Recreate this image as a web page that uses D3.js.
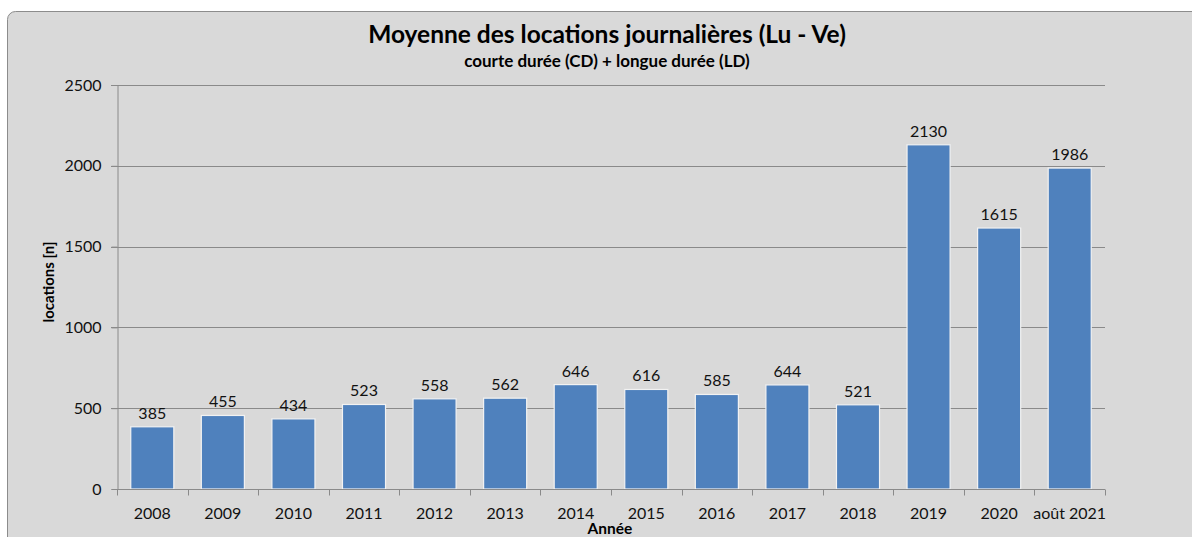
<!DOCTYPE html>
<html>
<head>
<meta charset="utf-8">
<title>Moyenne des locations journalières</title>
<script src="https://cdn.jsdelivr.net/npm/d3@7"></script>
<style>
  body { margin: 0; background: #fff; }
  svg { display: block; font-family: Lato, "Open Sans", sans-serif; }
</style>
</head>
<body>
<svg width="1192" height="537"></svg>
<script>
// data
var years = ['2008', '2009', '2010', '2011', '2012', '2013', '2014', '2015', '2016', '2017', '2018', '2019', '2020', 'août 2021'];
var locations = [385, 455, 434, 523, 558, 562, 646, 616, 585, 644, 521, 2130, 1615, 1986];
var yTicks = [0, 500, 1000, 1500, 2000, 2500];

var svg = d3.select('svg');

// chart frame
svg.append('rect')
  .attr('x', 7.5).attr('y', 11.5)
  .attr('width', 1200).attr('height', 560)
  .attr('rx', 8)
  .style('fill', '#d9d9d9')
  .style('stroke', '#8c8c8c')
  .style('stroke-width', 1);

var plotLeft = 117, plotRight = 1105, plotTop = 85, plotBottom = 489;

var x = d3.scaleBand().domain(years).range([plotLeft, plotRight]).paddingInner(0.39).paddingOuter(0.195);
var y = d3.scaleLinear().domain([0, 2500]).range([plotBottom, plotTop]);

// gridlines
svg.append('g')
  .selectAll('line')
  .data(yTicks.filter(function(d) { return d > 0; }))
  .enter().append('line')
  .attr('x1', plotLeft - 6).attr('x2', plotRight)
  .attr('y1', function(d) { return Math.round(y(d)) + 0.5; })
  .attr('y2', function(d) { return Math.round(y(d)) + 0.5; })
  .style('stroke', '#8a8a8a');

// y axis
var yAxis = svg.append('g')
  .attr('transform', 'translate(' + (plotLeft + 0.5) + ',0)')
  .call(d3.axisLeft(y).tickValues(yTicks).tickFormat(d3.format('d')).tickSize(6).tickPadding(10));
yAxis.select('.domain').style('stroke', '#8a8a8a');
yAxis.selectAll('.tick line').style('stroke', '#8a8a8a');
yAxis.selectAll('text').style('font-size', '16px').style('fill', '#111').style('font-family', 'Lato, sans-serif');

// bars
svg.append('g')
  .selectAll('rect')
  .data(locations)
  .enter().append('rect')
  .attr('x', function(d, i) { return x(years[i]); })
  .attr('y', function(d) { return y(d); })
  .attr('width', x.bandwidth())
  .attr('height', function(d) { return plotBottom - y(d); })
  .style('fill', '#4f81bd')
  .style('stroke', '#f2f2f2')
  .style('stroke-width', 1.2);

// value labels
svg.append('g')
  .selectAll('text')
  .data(locations)
  .enter().append('text')
  .attr('x', function(d, i) { return x(years[i]) + x.bandwidth() / 2; })
  .attr('y', function(d) { return y(d) - 8; })
  .attr('text-anchor', 'middle')
  .style('font-size', '16px')
  .style('fill', '#111')
  .text(function(d) { return d; });

// x axis with ticks between categories
var step = x.step();
var xAxis = svg.append('g')
  .attr('transform', 'translate(0,' + (plotBottom + 0.5) + ')');
xAxis.append('line')
  .attr('x1', plotLeft).attr('x2', plotRight)
  .style('stroke', '#8a8a8a');
xAxis.selectAll('line.tk')
  .data(d3.range(years.length + 1))
  .enter().append('line')
  .attr('class', 'tk')
  .attr('x1', function(i) { return Math.round(plotLeft + i * step) + 0.5; })
  .attr('x2', function(i) { return Math.round(plotLeft + i * step) + 0.5; })
  .attr('y1', 0).attr('y2', 6)
  .style('stroke', '#8a8a8a');
xAxis.selectAll('text')
  .data(years)
  .enter().append('text')
  .attr('x', function(d) { return x(d) + x.bandwidth() / 2; })
  .attr('y', 29)
  .attr('text-anchor', 'middle')
  .style('font-size', '16px')
  .style('fill', '#111')
  .text(function(d) { return d; });

// titles
svg.append('text')
  .attr('x', 607).attr('y', 43)
  .attr('text-anchor', 'middle')
  .style('font-size', '24.5px').style('font-weight', 'bold')
  .text('Moyenne des locations journalières (Lu - Ve)');
svg.append('text')
  .attr('x', 607).attr('y', 67)
  .attr('text-anchor', 'middle')
  .style('font-size', '17px').style('font-weight', 'bold')
  .text('courte durée (CD) + longue durée (LD)');
svg.append('text')
  .attr('transform', 'translate(54,282) rotate(-90)')
  .attr('text-anchor', 'middle')
  .style('font-size', '15px').style('font-weight', 'bold')
  .text('locations [n]');
svg.append('text')
  .attr('x', 610).attr('y', 534)
  .attr('text-anchor', 'middle')
  .style('font-size', '15.5px').style('font-weight', 'bold')
  .text('Année');
</script>
</body>
</html>
